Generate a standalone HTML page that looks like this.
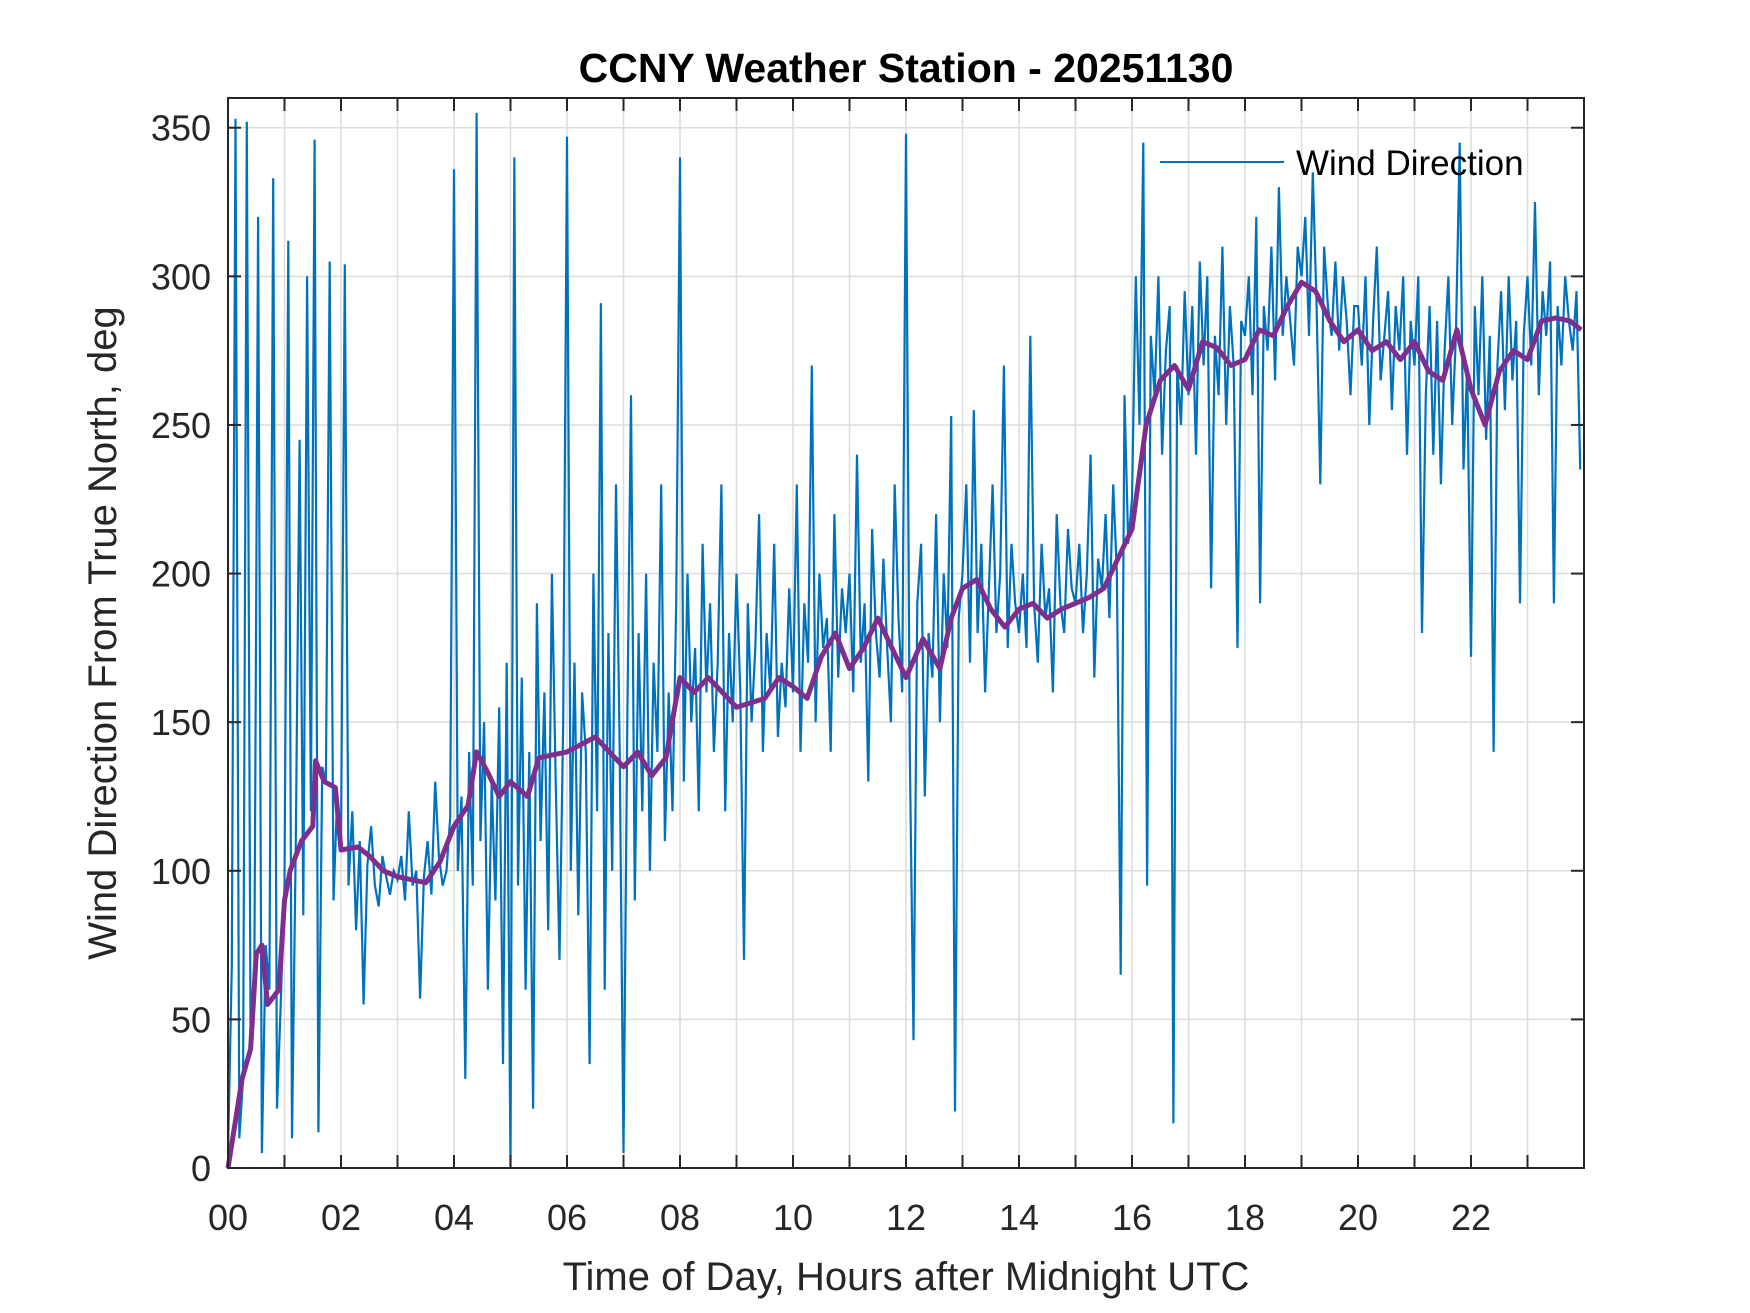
<!DOCTYPE html>
<html><head><meta charset="utf-8">
<style>
html,body{margin:0;padding:0;background:#fff;}
svg{display:block;font-family:"Liberation Sans",Arial,sans-serif;}
</style></head>
<body>
<svg id="chart" width="1750" height="1313" viewBox="0 0 1750 1313" xmlns="http://www.w3.org/2000/svg">
<rect width="1750" height="1313" fill="#fff"/>
<g id="grid"></g>
<g id="series"></g>
<g id="axes"></g>
<text x="906" y="82" text-anchor="middle" font-size="41" font-weight="bold" fill="#000">CCNY Weather Station - 20251130</text>
<text x="906" y="1290" text-anchor="middle" font-size="40" fill="#262626">Time of Day, Hours after Midnight UTC</text>
<text transform="translate(116,633) rotate(-90)" text-anchor="middle" font-size="40" fill="#262626">Wind Direction From True North, deg</text>
<g>
<line x1="1160" y1="162" x2="1284" y2="162" stroke="#0072BD" stroke-width="2"/>
<text x="1296" y="175" font-size="35" fill="#000">Wind Direction</text>
</g>
</svg>
<script>
// Data
const xTickLabels = ["00","02","04","06","08","10","12","14","16","18","20","22"];
const xTickValues = [0,2,4,6,8,10,12,14,16,18,20,22];
const yTickValues = [0,50,100,150,200,250,300,350];
const sampleMinutes = 4;
const windDir = [
5,68,353,10,30,352,40,70,320,5,75,60,333,20,55,
95,312,10,110,245,85,300,120,346,12,135,130,305,90,125,
108,304,95,120,80,110,55,102,115,95,88,105,98,92,100,
97,105,90,120,95,100,57,98,110,92,130,105,95,100,118,
336,100,125,30,140,95,355,110,150,60,130,90,155,35,170,
0,340,95,165,60,140,20,190,110,160,80,200,130,70,150,
347,100,170,85,160,140,35,200,120,291,60,180,100,230,140,
5,150,260,90,180,120,200,100,170,140,230,110,160,120,190,
340,130,200,150,175,120,210,160,190,140,170,230,120,180,150,
200,160,70,190,150,175,220,140,180,160,210,145,170,155,195,
160,230,140,190,170,270,150,200,175,185,140,220,165,195,180,
200,160,240,170,190,130,215,180,165,205,175,150,230,185,160,
348,140,43,190,210,125,180,165,220,150,200,175,253,19,185,
200,230,170,255,180,210,160,195,230,180,200,270,175,210,190,
180,200,175,280,190,170,210,185,195,160,220,190,180,215,195,
190,210,180,200,240,165,205,195,220,185,230,200,65,260,210,
225,300,250,345,95,280,260,300,240,275,290,15,270,250,295,
260,290,240,305,270,300,195,280,260,310,250,290,270,175,285,
280,300,260,320,190,290,275,310,265,330,280,300,285,270,310,
300,320,280,335,290,230,310,290,280,305,275,300,285,260,290,
290,270,300,250,285,310,265,280,295,255,290,275,300,240,285,
270,300,180,260,290,240,285,230,275,300,250,280,345,235,270,
172,290,260,300,245,280,140,270,295,255,300,265,285,190,280,
300,270,325,260,295,280,305,190,290,270,300,285,275,295,235
];
const meanHours = [0,0.25,0.4,0.5,0.6,0.7,0.9,1.0,1.1,1.3,1.5,1.55,1.7,1.9,2.0,2.3,2.5,2.75,3.0,3.5,3.75,4.0,4.25,4.4,4.6,4.8,5.0,5.3,5.5,6.0,6.5,7.0,7.25,7.5,7.75,8.0,8.25,8.5,8.75,9.0,9.5,9.75,10.0,10.25,10.5,10.75,11.0,11.25,11.5,11.75,12.0,12.3,12.6,12.8,13.0,13.25,13.5,13.75,14.0,14.25,14.5,14.75,15.0,15.25,15.5,15.75,16.0,16.25,16.5,16.75,17.0,17.25,17.5,17.75,18.0,18.25,18.5,18.75,19.0,19.25,19.5,19.75,20.0,20.25,20.5,20.75,21.0,21.25,21.5,21.75,22.0,22.25,22.5,22.75,23.0,23.25,23.5,23.75,23.95];
const windMean = [0,30,40,72,75,55,60,90,100,110,115,137,130,128,107,108,105,100,98,96,103,115,122,140,133,125,130,125,138,140,145,135,140,132,138,165,160,165,160,155,158,165,162,158,172,180,168,175,185,175,165,178,168,185,195,198,188,182,188,190,185,188,190,192,195,205,215,250,265,270,262,278,276,270,272,282,280,290,298,295,285,278,282,275,278,272,278,268,265,282,262,250,268,275,272,285,286,285,282];
// Axis functions
const L=228,R=1584,T=98,B=1168;
const xMax=24,yMax=360;
const xs=h=>L+(h/xMax)*(R-L);
const ys=v=>B-(v/yMax)*(B-T);
const NS="http://www.w3.org/2000/svg";
function mk(tag,parent){const e=document.createElementNS(NS,tag);parent.appendChild(e);return e;}
const grid=document.getElementById('grid'),series=document.getElementById('series'),axes=document.getElementById('axes');
for(let h=1;h<24;h++){
  const g=mk('line',grid);
  
  
  g.setAttribute('x1',xs(h));g.setAttribute('x2',xs(h));g.setAttribute('y1',T);g.setAttribute('y2',B);
  g.setAttribute('stroke','#dcdcdc');g.setAttribute('stroke-width','1.5');
}
yTickValues.forEach(v=>{
  const g=mk('line',grid);
  
  
  g.setAttribute('x1',L);g.setAttribute('x2',R);g.setAttribute('y1',ys(v));g.setAttribute('y2',ys(v));
  g.setAttribute('stroke','#dcdcdc');g.setAttribute('stroke-width','1.5');
});
let d='';
windDir.forEach((v,i)=>{d+=(i?'L':'M')+xs(i*sampleMinutes/60).toFixed(1)+','+ys(v).toFixed(1);});
const p=mk('path',series);


p.setAttribute('d',d);p.setAttribute('fill','none');p.setAttribute('stroke','#0072BD');p.setAttribute('stroke-width','2.2');
let d2='';
windMean.forEach((v,i)=>{d2+=(i?'L':'M')+xs(meanHours[i]).toFixed(1)+','+ys(v).toFixed(1);});
const p2=mk('path',series);


p2.setAttribute('d',d2);p2.setAttribute('fill','none');p2.setAttribute('stroke','#7E2F8E');p2.setAttribute('stroke-width','5');p2.setAttribute('stroke-linejoin','round');
const box=mk('rect',axes);


box.setAttribute('x',L);box.setAttribute('y',T);box.setAttribute('width',R-L);box.setAttribute('height',B-T);
box.setAttribute('fill','none');box.setAttribute('stroke','#262626');box.setAttribute('stroke-width','2');
for(let h=1;h<24;h++){
  [[B,B-13],[T,T+13]].forEach(([a,b])=>{
    const t=mk('line',axes);
    
    
    t.setAttribute('x1',xs(h));t.setAttribute('x2',xs(h));t.setAttribute('y1',a);t.setAttribute('y2',b);
    t.setAttribute('stroke','#262626');t.setAttribute('stroke-width','2');
  });
}
yTickValues.forEach(v=>{
  [[L,L+13],[R,R-13]].forEach(([a,b])=>{
    const t=mk('line',axes);
    
    
    t.setAttribute('x1',a);t.setAttribute('x2',b);t.setAttribute('y1',ys(v));t.setAttribute('y2',ys(v));
    t.setAttribute('stroke','#262626');t.setAttribute('stroke-width','2');
  });
  const tx=mk('text',axes);
  
  
  tx.setAttribute('x',L-17);tx.setAttribute('y',ys(v)+13);tx.setAttribute('text-anchor','end');
  tx.setAttribute('font-size','36');tx.setAttribute('fill','#262626');tx.textContent=v;
});
xTickValues.forEach((h,i)=>{
  const tx=mk('text',axes);
  
  
  tx.setAttribute('x',xs(h));tx.setAttribute('y',B+62);tx.setAttribute('text-anchor','middle');
  tx.setAttribute('font-size','36');tx.setAttribute('fill','#262626');tx.textContent=xTickLabels[i];
});
</script>
</body></html>
